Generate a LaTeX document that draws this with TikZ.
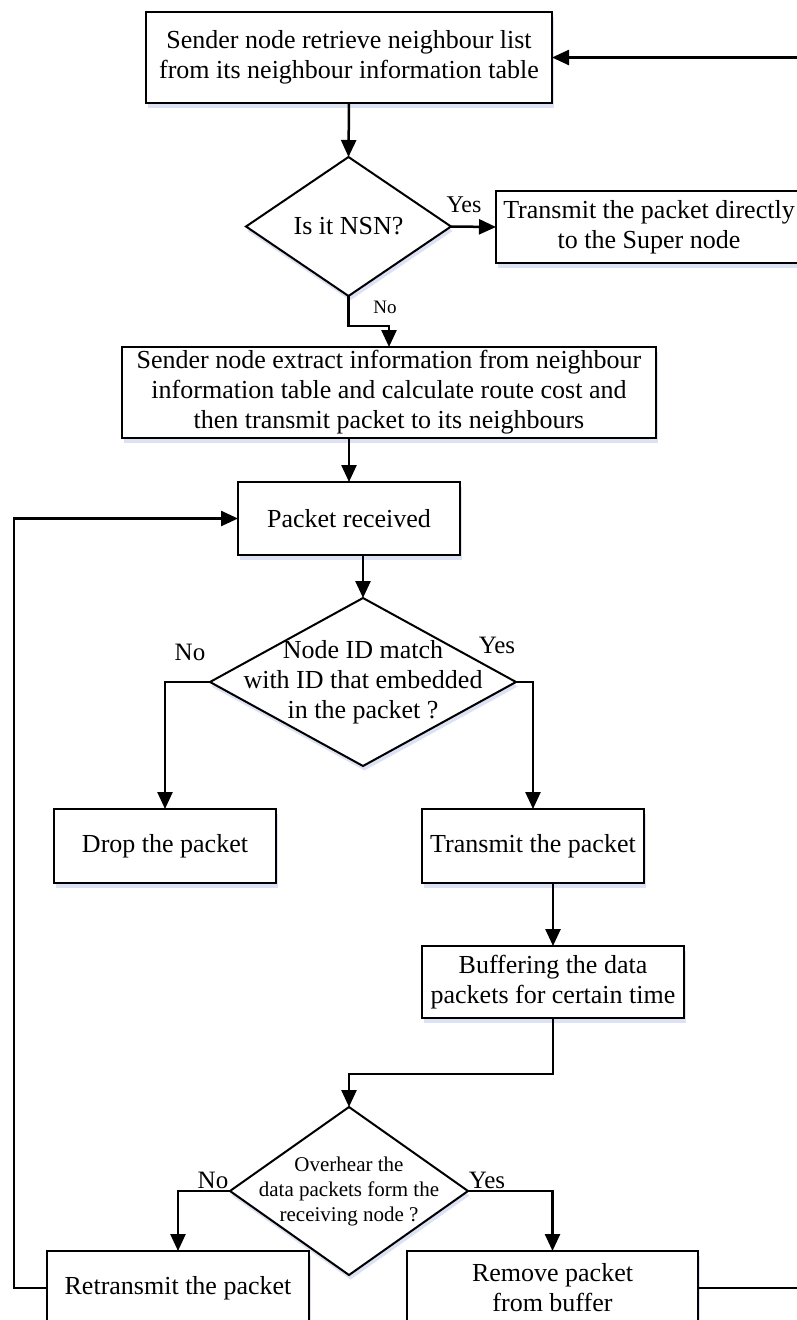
\documentclass[tikz,border=0pt]{standalone}
\usepackage{fontspec}
\setmainfont{Liberation Serif}
\usetikzlibrary{shapes.geometric,arrows.meta,shadows}
\begin{document}
\begin{tikzpicture}[x=1pt,y=-1pt,
  shad/.style={drop shadow={shadow xshift=1.5pt,shadow yshift=-4.5pt,fill=cyan!35!blue!22,opacity=0.6}},
  box/.style={draw=black,line width=2pt,fill=white,inner sep=0pt,outer sep=0pt,align=center,
    font=\fontsize{26}{30}\selectfont,shad},
  dia/.style={draw=black,line width=2pt,fill=white,shape=diamond,inner sep=0pt,outer sep=0pt,shad},
  dtext/.style={align=center,inner sep=0pt,font=\fontsize{26}{30}\selectfont},
  lab/.style={inner sep=0pt,font=\fontsize{25}{28}\selectfont},
  arr/.style={line width=2.5pt,-{Triangle[length=17pt,width=15pt]}},
  ln/.style={line width=2.5pt}]
\useasboundingbox (0,0) rectangle (797,1320);
\clip (0,0) rectangle (797,1320);
\fill[white] (0,0) rectangle (797,1320);

% nodes
\node[box,minimum width=406pt,minimum height=91pt] (b1) at (349,57.5)
  {Sender node retrieve neighbour list\\from its neighbour information table};
\node[dia,minimum width=205pt,minimum height=139pt] (d1) at (348.5,226.5) {};
\node[dtext] (d1t) at (d1.center) {Is it NSN?};
\node[box,minimum width=306pt,minimum height=72pt] (b2) at (649,227)
  {Transmit the packet directly\\to the Super node};
\node[box,minimum width=534pt,minimum height=91pt] (b3) at (389,392.5)
  {Sender node extract information from neighbour\\information table and calculate route cost and\\then transmit packet to its neighbours};
\node[box,minimum width=222pt,minimum height=73pt] (b4) at (349,518.5) {Packet received};
\node[dia,minimum width=306pt,minimum height=168pt] (d2) at (363,682) {};
\node[dtext] (d2t) at (d2.center) {Node ID match\\with ID that embedded\\in the packet ?};
\node[box,minimum width=222pt,minimum height=74pt] (b5) at (165,846) {Drop the packet};
\node[box,minimum width=222pt,minimum height=74pt] (b6) at (533,846) {Transmit the packet};
\node[box,minimum width=262pt,minimum height=72pt] (b7) at (553,982)
  {Buffering the data\\packets for certain time};
\node[dia,minimum width=238pt,minimum height=168pt] (d3) at (349,1191) {};
\node[dtext,font=\fontsize{21}{25}\selectfont] (d3t) at (d3.center)
  {Overhear the\\data packets form the\\receiving node ?};
\node[box,minimum width=262pt,minimum height=74pt] (b8) at (178,1288) {Retransmit the packet};
\node[box,minimum width=291pt,minimum height=74pt] (b9) at (552.5,1288) {Remove packet\\from buffer};

% labels
\node[lab,font=\fontsize{24}{28}\selectfont] (y1) at (464,205) {Yes};
\node[lab,font=\fontsize{19}{22}\selectfont] (n1) at (385,307) {No};
\node[lab] (n2) at (190,652) {No};
\node[lab] (y2) at (497,645) {Yes};
\node[lab] (n3) at (213,1180) {No};
\node[lab] (y3) at (487,1180) {Yes};

% helper coordinates
\coordinate (lx) at (14,0);
\coordinate (rx) at (830,0);

% connectors
\draw[arr] (b1.south) -- (d1.north);
\draw[arr] (d1.east) -- (b2.west);
\draw[arr] (d1.south) -- ++(0,30) -| (b3.north);
\draw[arr] (b4.north |- b3.south) -- (b4.north);
\draw[arr] (d2.north |- b4.south) -- (d2.north);
\draw[arr] (d2.west) -| (b5.north);
\draw[arr] (d2.east) -| (b6.north);
\draw[arr] (b7.north |- b6.south) -- (b7.north);
\draw[arr] (b7.south) -- ++(0,56) -| (d3.north);
\draw[arr] (d3.west) -| (b8.north);
\draw[arr] (d3.east) -| (b9.north);
\draw[arr] (b8.west) -- (b8.west -| lx) |- (b4.west);
\draw[arr] (b9.east) -- (b9.east -| rx) |- (b1.east);
\end{tikzpicture}
\end{document}
